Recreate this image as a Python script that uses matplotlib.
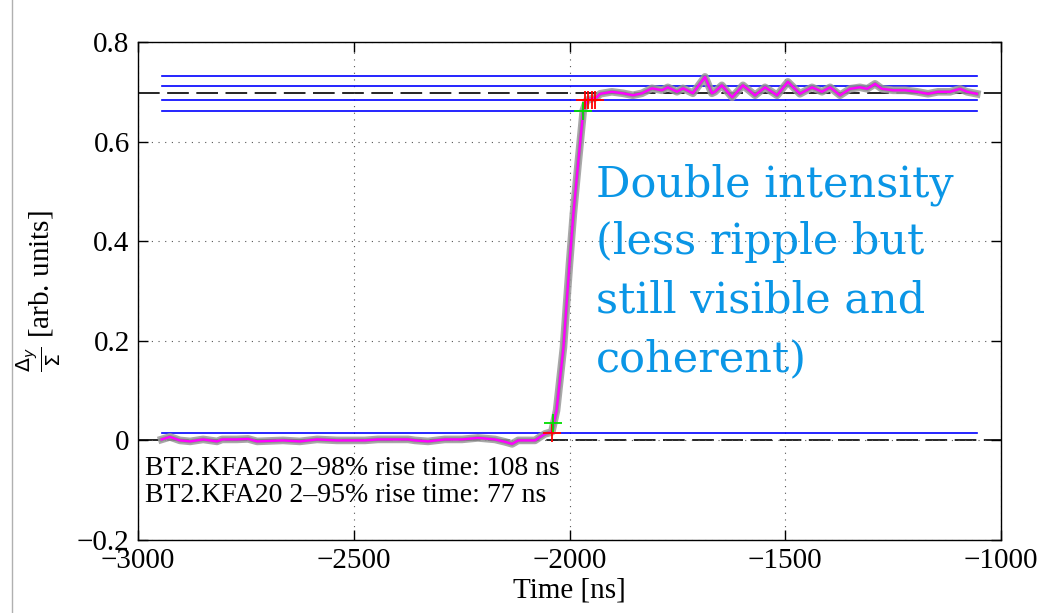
import matplotlib
matplotlib.use("Agg")
import matplotlib.pyplot as plt
from matplotlib.lines import Line2D

# ---- data ----
t_ns = [-2945, -2926, -2903, -2879, -2849, -2817, -2805, -2771, -2745, -2724,
        -2664, -2625, -2585, -2539, -2520, -2474, -2444, -2374, -2358, -2328,
        -2289, -2249, -2212, -2173, -2149, -2133, -2119, -2080, -2068, -2057,
        -2041, -2030, -2014, -2000, -1991, -1980, -1968, -1960, -1937, -1929,
        -1902, -1876, -1853, -1832, -1809, -1786, -1772, -1751, -1737, -1714,
        -1686, -1670, -1663, -1647, -1623, -1598, -1570, -1547, -1519, -1494,
        -1466, -1438, -1415, -1396, -1373, -1350, -1327, -1310, -1292, -1276,
        -1250, -1222, -1195, -1169, -1146, -1118, -1095, -1079, -1056]
signal = [0.002, 0.007, 0.000, -0.002, 0.002, -0.002, 0.002, 0.002, 0.003, -0.002,
          0.000, -0.002, 0.002, 0.000, 0.000, 0.000, 0.002, 0.002, 0.000, -0.002,
          0.002, 0.002, 0.005, 0.002, -0.003, -0.007, 0.000, 0.000, 0.007, 0.013,
          0.017, 0.060, 0.187, 0.355, 0.455, 0.556, 0.663, 0.683, 0.689, 0.696,
          0.700, 0.697, 0.693, 0.697, 0.707, 0.703, 0.709, 0.700, 0.707, 0.697,
          0.730, 0.697, 0.700, 0.713, 0.689, 0.713, 0.693, 0.709, 0.693, 0.720,
          0.696, 0.709, 0.700, 0.709, 0.693, 0.706, 0.709, 0.706, 0.716, 0.706,
          0.703, 0.703, 0.700, 0.696, 0.700, 0.700, 0.706, 0.700, 0.696]

flat_top = 0.697
flat_bottom = 0.0
band_levels = [0.732, 0.711, 0.683, 0.662, 0.014]
band_x = [-2945, -1056]

red_x = [-2041, -1964, -1957, -1948, -1941]
red_y = [0.014, 0.683, 0.683, 0.683, 0.683]
green_x = [-2038, -1969]
green_y = [0.035, 0.662]

x_ticks = [-3000, -2500, -2000, -1500, -1000]
x_tick_labels = ["\u22123000", "\u22122500", "\u22122000", "\u22121500", "\u22121000"]
y_ticks = [-0.2, 0, 0.2, 0.4, 0.6, 0.8]
y_tick_labels = ["\u22120.2", "0", "0.2", "0.4", "0.6", "0.8"]

notes = ["BT2.KFA20 2\u201398% rise time: 108 ns",
         "BT2.KFA20 2\u201395% rise time: 77 ns"]
callout = ["Double intensity", "(less ripple but", "still visible and", "coherent)"]

# ---- figure ----
W, H = 1037, 613
fig = plt.figure(figsize=(W / 100, H / 100), dpi=100)
ax = fig.add_axes([138 / W, (H - 540) / H, (1001 - 138) / W, (540 - 42) / H])

serif = "Liberation Serif"
plt.rcParams["mathtext.fontset"] = "stix"

# dashed reference lines
dash = (0, (13, 4.5))
ax.axhline(flat_top, color="black", lw=1.2, linestyle=dash, zorder=1)
ax.axhline(flat_bottom, color="black", lw=1.2, linestyle=dash, zorder=1)

for lvl in band_levels:
    ax.plot(band_x, [lvl, lvl], color="#0000ff", lw=1.2, zorder=2)

# gray traces band then mean
ax.plot(t_ns, signal, color="#9a9a9a", lw=5.5, alpha=0.85, zorder=3, solid_joinstyle="round")
ax.plot(t_ns, signal, color="#7a7a7a", lw=3.0, alpha=0.5, zorder=3)
ax.plot(t_ns, signal, color="#ff00ff", lw=1.7, zorder=4)

ax.plot(red_x, red_y, linestyle="none", marker="+", color="#ff0000", ms=13, mew=1.3, zorder=5)
ax.plot(green_x, green_y, linestyle="none", marker="+", color="#00dd00", ms=13, mew=1.3, zorder=5)

ax.set_xlim(-3000, -1000)
ax.set_ylim(-0.2, 0.8)
ax.set_xticks(x_ticks)
ax.set_xticklabels(x_tick_labels, fontfamily=serif, fontsize=21)
ax.set_yticks(y_ticks)
ax.set_yticklabels(y_tick_labels, fontfamily=serif, fontsize=21)
ax.tick_params(direction="in", length=7, width=1, top=True, right=True, pad=6)
ax.grid(True, linestyle=(0, (1, 5)), color="#555555", lw=0.8)
for s in ax.spines.values():
    s.set_linewidth(1.0)

ax.set_xlabel("Time [ns]", fontfamily=serif, fontsize=21, labelpad=2)
ax.set_ylabel(r"$\frac{\Delta_y}{\Sigma}$ [arb. units]", fontfamily=serif, fontsize=21, labelpad=10)

def fx(px):
    return px / W

def fy(py):
    return 1 - py / H

fig.text(fx(145), fy(475), notes[0], fontfamily=serif, fontsize=20, va="baseline", ha="left")
fig.text(fx(145), fy(502), notes[1], fontfamily=serif, fontsize=20, va="baseline", ha="left")

baselines = [196, 254, 313, 371]
for line, b in zip(callout, baselines):
    fig.text(fx(596), fy(b), line, fontfamily="DejaVu Serif", fontsize=31,
             color="#0a96e6", va="baseline", ha="left")

fig.add_artist(Line2D([12 / W, 12 / W], [0, 1], color="#b0b0b0", lw=1))

fig.savefig("out.png", dpi=100)
